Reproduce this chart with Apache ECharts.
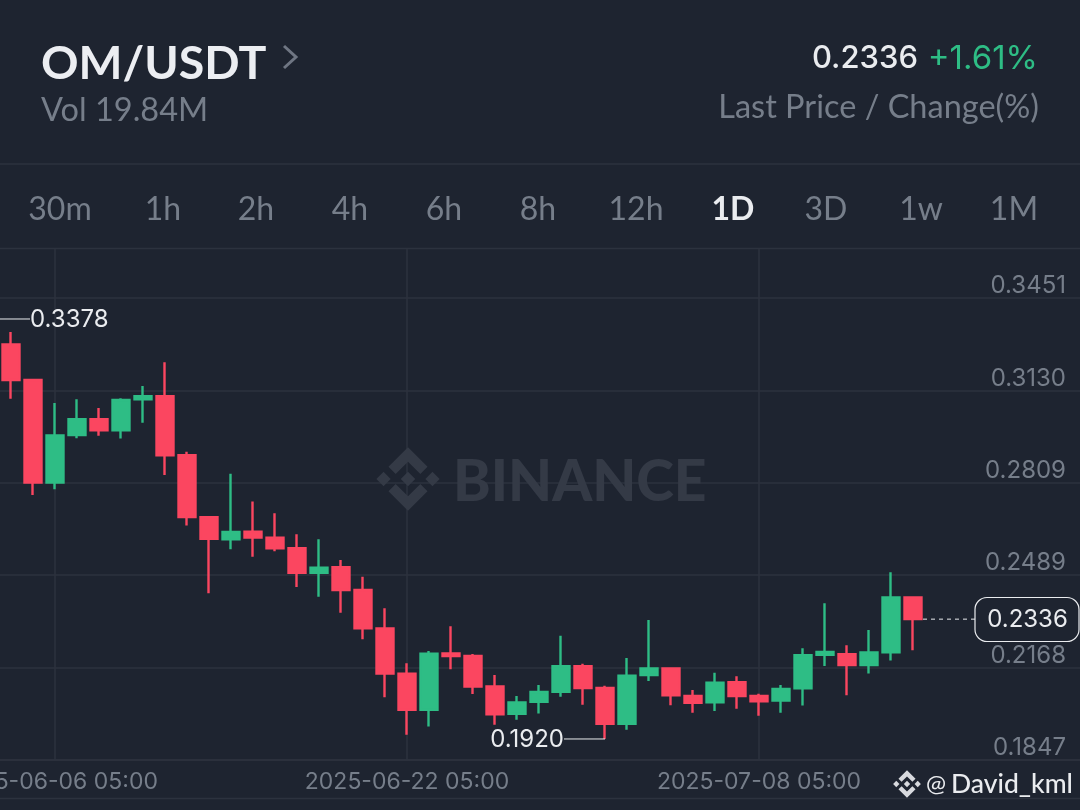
<!DOCTYPE html>
<html><head><meta charset="utf-8">
<style>html,body{margin:0;padding:0;background:#1e2430}#c{width:1080px;height:810px}</style>
<script src="https://cdn.jsdelivr.net/npm/echarts@6/dist/echarts.min.js"></script>
</head><body><div id="c"></div>
<script>
const dates=["06-04","06-05","06-06","06-07","06-08","06-09","06-10","06-11","06-12","06-13","06-14","06-15","06-16","06-17","06-18","06-19","06-20","06-21","06-22","06-23","06-24","06-25","06-26","06-27","06-28","06-29","06-30","07-01","07-02","07-03","07-04","07-05","07-06","07-07","07-08","07-09","07-10","07-11","07-12","07-13","07-14","07-15","07-16","07-17","07-18","07-19","07-20","07-21","07-22","07-23"];
const shownDates=["06-06","06-22","07-08"];
const openPrices=[.3290,.3166,.2810,.2975,.3030,.2992,.3099,.3110,.2905,.2690,.2613,.2640,.2619,.2582,.2497,.2516,.2437,.2304,.2147,.2021,.2217,.2208,.2102,.2007,.2049,.2084,.2173,.2097,.1973,.2142,.2165,.2069,.2047,.2117,.2069,.2053,.2096,.2212,.2214,.2177,.2221,.2411];
const closePrices=[.3166,.2810,.2974,.3030,.2992,.3097,.3110,.2905,.2690,.2615,.2639,.2619,.2582,.2497,.2515,.2437,.2304,.2147,.2021,.2216,.2208,.2102,.2006,.2047,.2083,.2173,.2097,.1973,.2140,.2165,.2072,.2046,.2115,.2069,.2051,.2094,.2211,.2222,.2177,.2220,.2411,.2336];
const lowPrices=[.3101,.2767,.2787,.2964,.2973,.2963,.3018,.2836,.2661,.2426,.2579,.2553,.2572,.2448,.2414,.2358,.2266,.2065,.1935,.1963,.2162,.2076,.1969,.1987,.2008,.2067,.2039,.1920,.1952,.2121,.2037,.2011,.2017,.2025,.2001,.2011,.2036,.2173,.2072,.2147,.2192,.2228];
const highPrices=[.3333,.3168,.3086,.3099,.3069,.3103,.3145,.3228,.2917,.2693,.2841,.2744,.2704,.2631,.2613,.2541,.2483,.2374,.2183,.2225,.2311,.2215,.2142,.2069,.2107,.2278,.2181,.2105,.2201,.2333,.2168,.2090,.2150,.2138,.2077,.2107,.2235,.2391,.2245,.2298,.2499,.2411];
const priceTicks=[0.1847,0.2168,0.2489,0.2809,0.3130,0.3451];
const axisMin=0.1847, axisMax=0.3621;
const periods=["30m","1h","2h","4h","6h","8h","12h","1D","3D","1w","1M"];
const periodCenters=[60,163,256,350,444,538,636,733,826,921,1014];
const activePeriod="1D";
const peakPrice=0.3378, troughPrice=0.1920, lastPrice=0.2336;

const BG='#1e2430', LINE='#2c323e', MUTED='#767e8a', WHITE='#eaecef', UP='#2ebd85', DOWN='#fb4660';
const FONT='Lato, sans-serif', NUM='Inter, sans-serif';
const LOGO=[
 [[38.73,53.2],[63,28.93],[87.28,53.21],[101.4,39.09],[63,.69],[24.61,39.08]],
 [[.69,63],[14.81,48.88],[28.93,63],[14.81,77.12]],
 [[38.73,72.8],[63,97.07],[87.28,72.79],[101.41,86.9],[63,125.31],[24.6,86.92]],
 [[97.07,63],[111.19,48.88],[125.31,63],[111.19,77.12]],
 [[77.32,63],[63,48.68],[48.69,63],[63,77.32]]
];

const chart=echarts.init(document.getElementById('c'),null,{renderer:'canvas'});
const candles=openPrices.map((o,i)=>[o,closePrices[i],lowPrices[i],highPrices[i]]);
const fmt=d=>'2025-'+d+' 05:00';
chart.setOption({
  backgroundColor:BG,animation:false,
  grid:{left:0,right:-20,top:249,bottom:50,containLabel:false,outerBoundsMode:'none'},
  xAxis:{type:'category',data:dates.map(fmt),boundaryGap:true,
    axisLine:{show:true,lineStyle:{color:LINE,width:1.5}},axisTick:{show:false},splitLine:{show:false},
    axisLabel:{interval:(i,v)=>shownDates.some(d=>fmt(d)===v),color:MUTED,fontFamily:NUM,fontSize:23,margin:11,hideOverlap:false}},
  yAxis:{type:'value',position:'right',min:axisMin,max:axisMax,scale:true,
    axisLine:{show:false},
    axisTick:{show:false,customValues:priceTicks},
    splitLine:{show:true,lineStyle:{color:LINE,width:1.5}},
    axisLabel:{customValues:priceTicks,inside:true,margin:34,color:MUTED,fontFamily:NUM,fontSize:24,
      align:'right',verticalAlign:'bottom',padding:[0,0,0,0],formatter:v=>v.toFixed(4)}},
  series:[{type:'candlestick',data:candles,barWidth:17,
    itemStyle:{color:UP,color0:DOWN,borderColor:UP,borderColor0:DOWN,borderWidth:2.4},
    markLine:{silent:true,symbol:'none',animation:false,z:0,label:{show:false},
      lineStyle:{color:LINE,width:1.5,type:'solid'},
      data:shownDates.map(d=>({xAxis:fmt(d)}))}}]
});

function txt(x,y,text,size,fill,align,weight,z,fam){return {type:'text',x,y,z:z||10,silent:true,
  style:{text,fill,font:(weight||400)+' '+size+'px '+(fam||FONT),textAlign:align||'left',textVerticalAlign:'middle'}};}
function hline(x1,x2,y,color,w,dash){return {type:'line',z:10,silent:true,shape:{x1,y1:y,x2,y2:y},style:{stroke:color,lineWidth:w,lineDash:dash||null}};}
const yPx=v=>chart.convertToPixel({yAxisIndex:0},v);
const xPx=i=>chart.convertToPixel({xAxisIndex:0},i);
const yPeak=yPx(peakPrice), yTrough=yPx(troughPrice), yLast=yPx(lastPrice);
const xTrough=xPx(lowPrices.indexOf(troughPrice)), xLast=xPx(closePrices.length-1);
const logo=(x,y,size,fill,z)=>LOGO.map(poly=>({type:'polygon',z,silent:true,
  shape:{points:poly.map(p=>[x+p[0]*size/126,y+p[1]*size/126])},style:{fill}}));

const els=[
  hline(0,1080,164,LINE,1.5), hline(0,1080,248.5,LINE,1.5), hline(0,1080,798.5,LINE,1.5),
  txt(41,64,'OM/USDT',46.5,'#eceef2','left',700),
  {type:'polyline',z:10,silent:true,shape:{points:[[284,46],[296,57],[284,68]]},style:{stroke:'#6f7683',lineWidth:3,fill:null}},
  txt(41,111,'Vol 19.84M',32.5,MUTED),
  txt(918,59,'0.2336',31,WHITE,'right',500,10,NUM),
  txt(1038,59,'+1.61%',33,UP,'right',400,10,NUM),
  txt(1039,108,'Last Price / Change(%)',32.5,MUTED,'right'),
  ...logo(376,447,64,'#343a46',1),
  txt(453,483,'BINANCE',57,'#343a46','left',900,1),
  hline(0,30,yPeak,WHITE,1), txt(30,yPeak+1,peakPrice.toFixed(4),24,WHITE,'left',400,10,NUM),
  hline(xTrough-41,xTrough,yTrough,WHITE,1), txt(564,yTrough+1,troughPrice.toFixed(4),24,WHITE,'right',400,10,NUM),
  hline(xLast+10,975,yLast,WHITE,1,[4,4]),
  {type:'rect',z:10,silent:true,shape:{x:975,y:597.5,width:104,height:44,r:12},style:{fill:BG,stroke:WHITE,lineWidth:1.2}},
  txt(1027.5,yLast+1,lastPrice.toFixed(4),24,WHITE,'center',400,10,NUM),
  ...logo(893,770,28,'#d8dade',10),
  txt(926,784,'@',24,WHITE,'left'),
  txt(951,784,'David_kml',26.5,WHITE,'left',500)
];
periods.forEach((p,i)=>els.push(txt(periodCenters[i],210,p,32,p===activePeriod?WHITE:MUTED,'center',p===activePeriod?700:400)));
chart.setOption({graphic:{elements:els}});
</script></body></html>
